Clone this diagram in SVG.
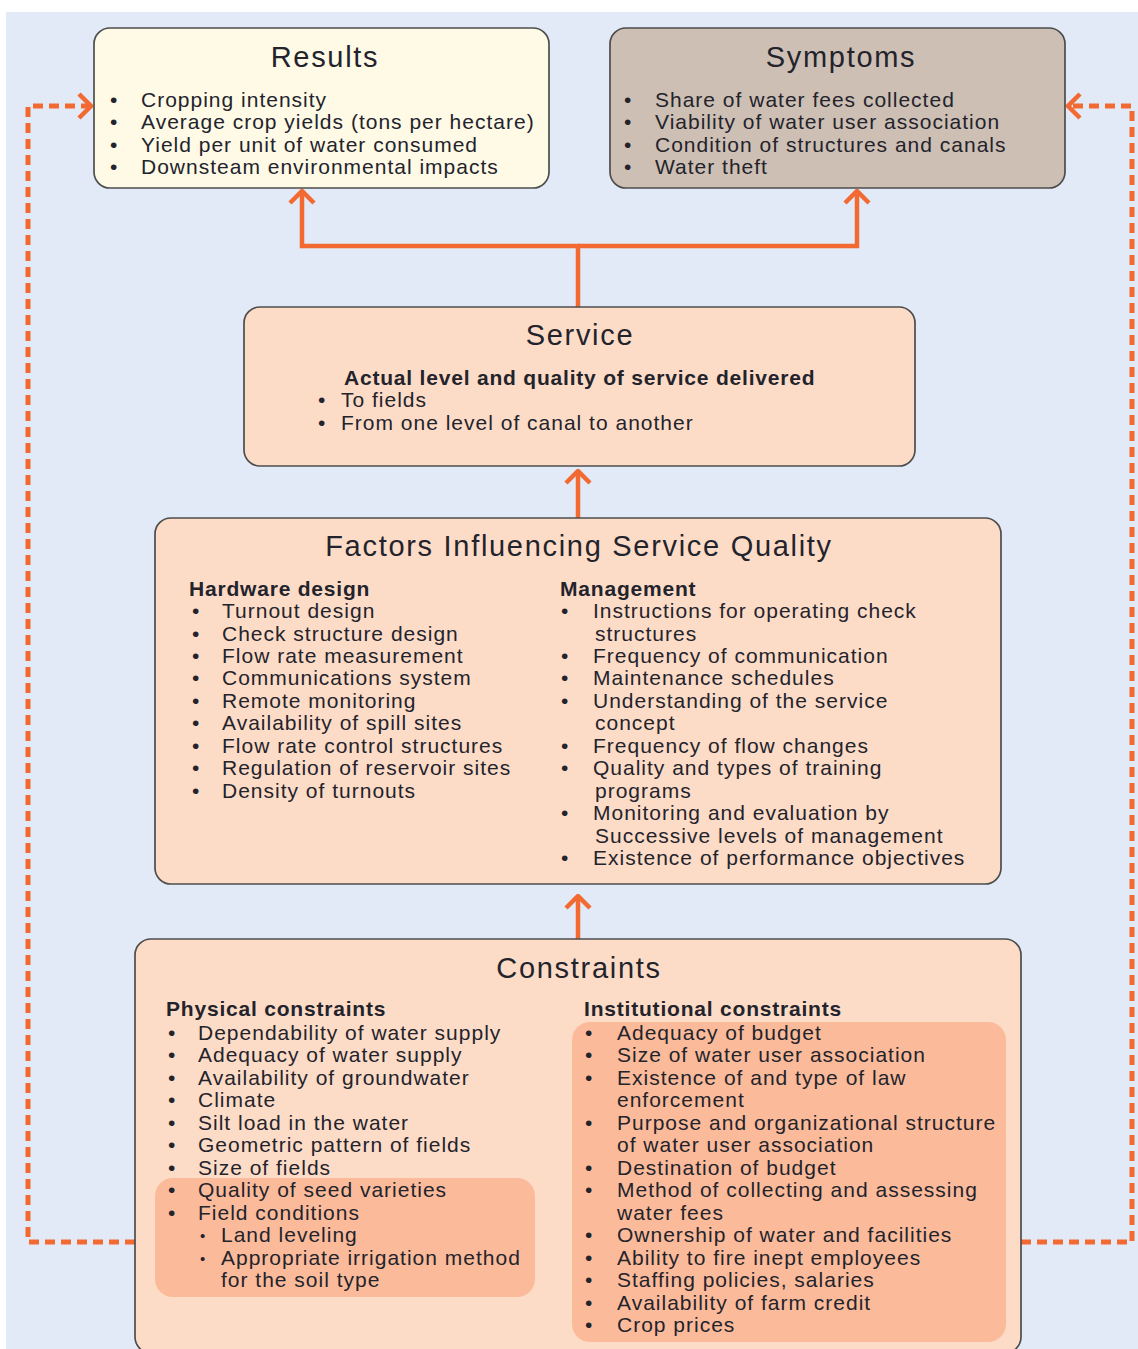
<svg xmlns="http://www.w3.org/2000/svg" width="1138" height="1349" viewBox="0 0 1138 1349">
  <style>
    .box { stroke: #4d4d4d; stroke-width: 1.7; }
    .res { fill: #fefae6; }
    .sym { fill: #cdbfb3; }
    .peach { fill: #fddcc7; }
    .hl { fill: #fbbb9a; }
    text { font-family: "Liberation Sans", Arial, sans-serif; fill: #23232c; }
    .title { font-size: 29px; letter-spacing: 1.7px; text-anchor: middle; }
    .item { font-size: 21px; letter-spacing: 1px; }
    .head { font-size: 21px; letter-spacing: 0.8px; font-weight: bold; }
    .sub { font-size: 15px; }
    .link { fill: none; stroke: #f26a32; stroke-width: 4.5; }
    .dash { stroke-width: 5; stroke-dasharray: 10 6; }
  </style>
  <defs>
    <marker id="chev" viewBox="0 0 16 28" refX="14" refY="14" markerWidth="16" markerHeight="28" markerUnits="userSpaceOnUse" orient="auto">
      <path d="M2,2 L14,14 L2,26" fill="none" stroke="#f26a32" stroke-width="4.5"/>
    </marker>
  </defs>

  <!-- page background -->
  <rect x="0" y="0" width="1138" height="1349" fill="#ffffff"/>
  <rect x="6" y="12" width="1132" height="1337" fill="#e1eaf6"/>

  <!-- connectors -->
  <g id="connectors">
    <path class="link" d="M578,307 V246 H302 V191" marker-end="url(#chev)"/>
    <path class="link" d="M578,246 H857 V191" marker-end="url(#chev)"/>
    <path class="link" d="M578,518 V471" marker-end="url(#chev)"/>
    <path class="link" d="M578,939 V896" marker-end="url(#chev)"/>
    <path class="link dash" d="M135,1242 H28 V106 H91" marker-end="url(#chev)"/>
    <path class="link dash" d="M1021,1242 H1132 V106 H1068" marker-end="url(#chev)"/>
  </g>

  <!-- Results -->
  <g id="results">
    <rect class="box res" x="94" y="28" width="455" height="160" rx="16"/>
    <text class="title" x="325" y="67">Results</text>
    <text class="item" y="107"><tspan x="110">•</tspan><tspan x="141">Cropping intensity</tspan></text>
    <text class="item" y="129"><tspan x="110">•</tspan><tspan x="141">Average crop yields (tons per hectare)</tspan></text>
    <text class="item" y="152"><tspan x="110">•</tspan><tspan x="141">Yield per unit of water consumed</tspan></text>
    <text class="item" y="174"><tspan x="110">•</tspan><tspan x="141">Downsteam environmental impacts</tspan></text>
  </g>

  <!-- Symptoms -->
  <g id="symptoms">
    <rect class="box sym" x="610" y="28" width="455" height="160" rx="16"/>
    <text class="title" x="841" y="67">Symptoms</text>
    <text class="item" y="107"><tspan x="624">•</tspan><tspan x="655">Share of water fees collected</tspan></text>
    <text class="item" y="129"><tspan x="624">•</tspan><tspan x="655">Viability of water user association</tspan></text>
    <text class="item" y="152"><tspan x="624">•</tspan><tspan x="655">Condition of structures and canals</tspan></text>
    <text class="item" y="174"><tspan x="624">•</tspan><tspan x="655">Water theft</tspan></text>
  </g>

  <!-- Service -->
  <g id="service">
    <rect class="box peach" x="244" y="307" width="671" height="159" rx="16"/>
    <text class="title" x="580" y="345">Service</text>
    <text class="head" x="344" y="385">Actual level and quality of service delivered</text>
    <text class="item" y="407"><tspan x="318">•</tspan><tspan x="341">To fields</tspan></text>
    <text class="item" y="430"><tspan x="318">•</tspan><tspan x="341">From one level of canal to another</tspan></text>
  </g>

  <!-- Factors influencing service quality -->
  <g id="factors">
    <rect class="box peach" x="155" y="518" width="846" height="366" rx="16"/>
    <text class="title" x="579" y="556">Factors Influencing Service Quality</text>
    <text class="head" x="189" y="596">Hardware design</text>
    <text class="item" y="618"><tspan x="192">•</tspan><tspan x="222">Turnout design</tspan></text>
    <text class="item" y="641"><tspan x="192">•</tspan><tspan x="222">Check structure design</tspan></text>
    <text class="item" y="663"><tspan x="192">•</tspan><tspan x="222">Flow rate measurement</tspan></text>
    <text class="item" y="685"><tspan x="192">•</tspan><tspan x="222">Communications system</tspan></text>
    <text class="item" y="708"><tspan x="192">•</tspan><tspan x="222">Remote monitoring</tspan></text>
    <text class="item" y="730"><tspan x="192">•</tspan><tspan x="222">Availability of spill sites</tspan></text>
    <text class="item" y="753"><tspan x="192">•</tspan><tspan x="222">Flow rate control structures</tspan></text>
    <text class="item" y="775"><tspan x="192">•</tspan><tspan x="222">Regulation of reservoir sites</tspan></text>
    <text class="item" y="798"><tspan x="192">•</tspan><tspan x="222">Density of turnouts</tspan></text>

    <text class="head" x="560" y="596">Management</text>
    <text class="item" y="618"><tspan x="561">•</tspan><tspan x="593">Instructions for operating check</tspan></text>
    <text class="item" x="595" y="641">structures</text>
    <text class="item" y="663"><tspan x="561">•</tspan><tspan x="593">Frequency of communication</tspan></text>
    <text class="item" y="685"><tspan x="561">•</tspan><tspan x="593">Maintenance schedules</tspan></text>
    <text class="item" y="708"><tspan x="561">•</tspan><tspan x="593">Understanding of the service</tspan></text>
    <text class="item" x="595" y="730">concept</text>
    <text class="item" y="753"><tspan x="561">•</tspan><tspan x="593">Frequency of flow changes</tspan></text>
    <text class="item" y="775"><tspan x="561">•</tspan><tspan x="593">Quality and types of training</tspan></text>
    <text class="item" x="595" y="798">programs</text>
    <text class="item" y="820"><tspan x="561">•</tspan><tspan x="593">Monitoring and evaluation by</tspan></text>
    <text class="item" x="595" y="843">Successive levels of management</text>
    <text class="item" y="865"><tspan x="561">•</tspan><tspan x="593">Existence of performance objectives</tspan></text>
  </g>

  <!-- Constraints -->
  <g id="constraints">
    <rect class="box peach" x="135" y="939" width="886" height="414" rx="16"/>
    <rect class="hl" x="155" y="1178" width="380" height="119" rx="18"/>
    <rect class="hl" x="572" y="1022" width="434" height="320" rx="18"/>
    <text class="title" x="579" y="978">Constraints</text>

    <text class="head" x="166" y="1016">Physical constraints</text>
    <text class="item" y="1040"><tspan x="168">•</tspan><tspan x="198">Dependability of water supply</tspan></text>
    <text class="item" y="1062"><tspan x="168">•</tspan><tspan x="198">Adequacy of water supply</tspan></text>
    <text class="item" y="1085"><tspan x="168">•</tspan><tspan x="198">Availability of groundwater</tspan></text>
    <text class="item" y="1107"><tspan x="168">•</tspan><tspan x="198">Climate</tspan></text>
    <text class="item" y="1130"><tspan x="168">•</tspan><tspan x="198">Silt load in the water</tspan></text>
    <text class="item" y="1152"><tspan x="168">•</tspan><tspan x="198">Geometric pattern of fields</tspan></text>
    <text class="item" y="1175"><tspan x="168">•</tspan><tspan x="198">Size of fields</tspan></text>
    <text class="item" y="1197"><tspan x="168">•</tspan><tspan x="198">Quality of seed varieties</tspan></text>
    <text class="item" y="1220"><tspan x="168">•</tspan><tspan x="198">Field conditions</tspan></text>
    <text class="item" y="1242"><tspan class="sub" x="200" dy="-1">•</tspan><tspan x="221" dy="1">Land leveling</tspan></text>
    <text class="item" y="1265"><tspan class="sub" x="200" dy="-1">•</tspan><tspan x="221" dy="1">Appropriate irrigation method</tspan></text>
    <text class="item" x="221" y="1287">for the soil type</text>

    <text class="head" x="584" y="1016">Institutional constraints</text>
    <text class="item" y="1040"><tspan x="585">•</tspan><tspan x="617">Adequacy of budget</tspan></text>
    <text class="item" y="1062"><tspan x="585">•</tspan><tspan x="617">Size of water user association</tspan></text>
    <text class="item" y="1085"><tspan x="585">•</tspan><tspan x="617">Existence of and type of law</tspan></text>
    <text class="item" x="617" y="1107">enforcement</text>
    <text class="item" y="1130"><tspan x="585">•</tspan><tspan x="617">Purpose and organizational structure</tspan></text>
    <text class="item" x="617" y="1152">of water user association</text>
    <text class="item" y="1175"><tspan x="585">•</tspan><tspan x="617">Destination of budget</tspan></text>
    <text class="item" y="1197"><tspan x="585">•</tspan><tspan x="617">Method of collecting and assessing</tspan></text>
    <text class="item" x="617" y="1220">water fees</text>
    <text class="item" y="1242"><tspan x="585">•</tspan><tspan x="617">Ownership of water and facilities</tspan></text>
    <text class="item" y="1265"><tspan x="585">•</tspan><tspan x="617">Ability to fire inept employees</tspan></text>
    <text class="item" y="1287"><tspan x="585">•</tspan><tspan x="617">Staffing policies, salaries</tspan></text>
    <text class="item" y="1310"><tspan x="585">•</tspan><tspan x="617">Availability of farm credit</tspan></text>
    <text class="item" y="1332"><tspan x="585">•</tspan><tspan x="617">Crop prices</tspan></text>
  </g>
</svg>
